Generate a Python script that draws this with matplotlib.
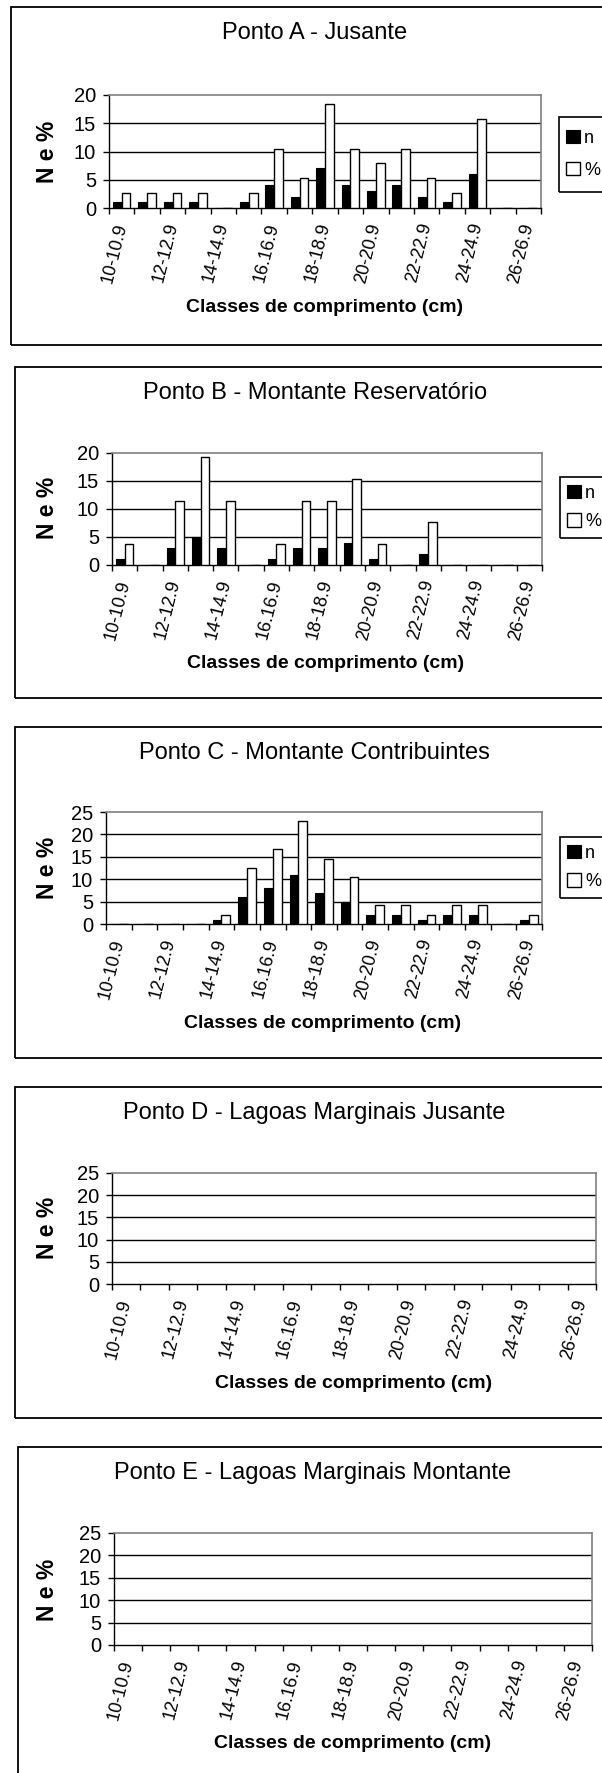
import matplotlib.pyplot as plt
from matplotlib.patches import Rectangle
import numpy as np

plt.rcParams['font.family'] = ['Liberation Sans', 'DejaVu Sans']

# length classes (cm); Excel only prints every second label
classes = ['10-10.9', '11-11.9', '12-12.9', '13-13.9', '14-14.9', '15-15.9',
           '16.16.9', '17-17.9', '18-18.9', '19-19.9', '20-20.9', '21-21.9',
           '22-22.9', '23-23.9', '24-24.9', '25-25.9', '26-26.9']

titles = ['Ponto A - Jusante',
          'Ponto B - Montante Reservatório',
          'Ponto C - Montante Contribuintes',
          'Ponto D - Lagoas Marginais Jusante',
          'Ponto E - Lagoas Marginais Montante']

# Ponto A
n_A = [1, 1, 1, 1, 0, 1, 4, 2, 7, 4, 3, 4, 2, 1, 6, 0, 0]
pct_A = [2.6, 2.6, 2.6, 2.6, 0, 2.6, 10.5, 5.3, 18.4, 10.5, 7.9, 10.5, 5.3, 2.6, 15.8, 0, 0]
# Ponto B
n_B = [1, 0, 3, 5, 3, 0, 1, 3, 3, 4, 1, 0, 2, 0, 0, 0, 0]
pct_B = [3.8, 0, 11.5, 19.2, 11.5, 0, 3.8, 11.5, 11.5, 15.4, 3.8, 0, 7.7, 0, 0, 0, 0]
# Ponto C
n_C = [0, 0, 0, 0, 1, 6, 8, 11, 7, 5, 2, 2, 1, 2, 2, 0, 1]
pct_C = [0, 0, 0, 0, 2.1, 12.5, 16.7, 22.9, 14.6, 10.4, 4.2, 4.2, 2.1, 4.2, 4.2, 0, 2.1]
# Ponto D and E: no fish caught, empty charts

yticks_20 = [0, 5, 10, 15, 20]
yticks_25 = [0, 5, 10, 15, 20, 25]

W, H = 602, 1773
fig = plt.figure(figsize=(W / 100, H / 100), dpi=100)


def fbox(x0, y0, x1, y1):
    return [x0 / W, 1 - y1 / H, (x1 - x0) / W, (y1 - y0) / H]


def draw_chart(title, frame, plot, title_xy, xlab_x, xlab_y, ylab_y, yticks,
               n=None, pct=None, legend_box=None, legend_gap=0.7):
    fx0, fy0, fx1, fy1 = frame
    fig.add_artist(Rectangle((fx0 / W, 1 - fy1 / H), (fx1 - fx0) / W, (fy1 - fy0) / H,
                             transform=fig.transFigure, fill=False, ec='black', lw=1.3))
    ax = fig.add_axes(fbox(*plot))
    x = np.arange(len(classes))
    if n is not None:
        ax.bar(x - 0.172, n, 0.345, color='black', edgecolor='black', lw=0.8, label='n', zorder=3)
        ax.bar(x + 0.172, pct, 0.345, color='white', edgecolor='black', lw=1.0, label='%', zorder=3)
    ax.set_xlim(-0.5, len(classes) - 0.5)
    ax.set_ylim(yticks[0], yticks[-1])
    for t in yticks[1:-1]:
        ax.axhline(t, color='black', lw=1, zorder=1)
    ax.set_yticks(yticks)
    ax.tick_params(axis='y', length=4.3, width=1, pad=5, labelsize=14.5)

    ax.set_xticks(np.arange(-0.5, len(classes), 1))
    ax.set_xticklabels([])
    ax.tick_params(axis='x', which='major', length=4.3, width=1)
    ax.set_xticks(x[::2], classes[::2], minor=True)
    ax.tick_params(axis='x', which='minor', length=0, pad=11, labelsize=13)
    for lab in ax.get_xticklabels(minor=True):
        lab.set_rotation(76)
        lab.set_ha('right')
        lab.set_va('center')
        lab.set_rotation_mode('anchor')

    for s in ['top', 'right']:
        ax.spines[s].set_color('#808080')
        ax.spines[s].set_linewidth(1.2)
    for s in ['left', 'bottom']:
        ax.spines[s].set_color('black')
        ax.spines[s].set_linewidth(1)

    fig.text(title_xy[0] / W, 1 - title_xy[1] / H, title, ha='center', va='center', fontsize=17)
    fig.text(xlab_x / W, 1 - xlab_y / H, 'Classes de comprimento (cm)', ha='center', va='center',
             fontsize=14, fontweight='bold')
    fig.text(48 / W, 1 - ylab_y / H, 'N e %', ha='center', va='center', rotation=90,
             fontsize=16.5, fontweight='bold')

    if legend_box is not None:
        lx0, ly0, ly1 = legend_box
        fig.add_artist(Rectangle((lx0 / W, 1 - ly1 / H), (660 - lx0) / W, (ly1 - ly0) / H,
                                 transform=fig.transFigure, fill=False, ec='black', lw=1.2))
        ax.legend(loc='center left', bbox_to_anchor=((lx0 + 7) / W, 1 - (ly0 + ly1) / 2 / H),
                  bbox_transform=fig.transFigure, frameon=False, fontsize=13,
                  handlelength=0.75, handleheight=0.75, handletextpad=0.25,
                  labelspacing=legend_gap, borderpad=0, borderaxespad=0)
    return ax


draw_chart(titles[0], (11, 7, 660, 345), (109, 95, 541, 208), (315, 33), 325, 308, 152,
           yticks_20, n_A, pct_A, legend_box=(559, 117, 192), legend_gap=0.85)
draw_chart(titles[1], (15, 367, 660, 698), (112, 453, 542, 565), (315, 393), 326, 663, 508,
           yticks_20, n_B, pct_B, legend_box=(560, 477, 538), legend_gap=0.65)
draw_chart(titles[2], (15, 727, 660, 1058), (106, 812, 542, 924), (314, 753), 323, 1023, 868,
           yticks_25, n_C, pct_C, legend_box=(560, 837, 898), legend_gap=0.65)
draw_chart(titles[3], (15, 1087, 660, 1418), (112, 1173, 596, 1284), (314, 1113), 354, 1383, 1228,
           yticks_25)
draw_chart(titles[4], (18, 1447, 660, 1820), (114, 1533, 592, 1645), (313, 1473), 353, 1743, 1590,
           yticks_25)

fig.savefig('out.png', dpi=100, facecolor='white')
